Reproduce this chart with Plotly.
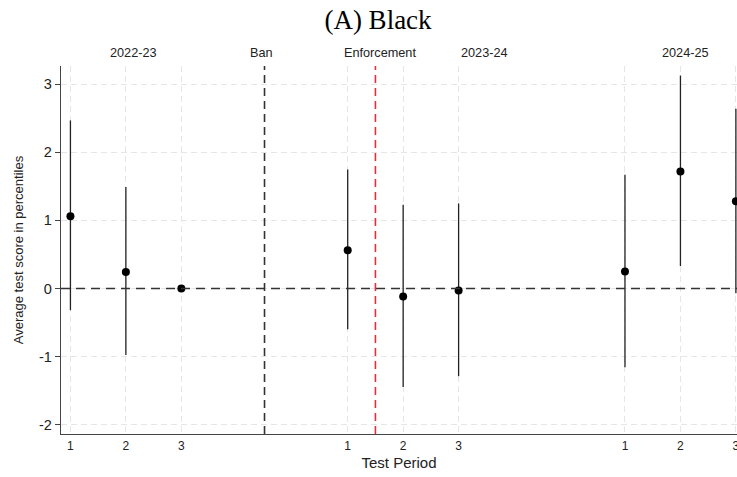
import plotly.graph_objects as go

# data
x_pos = [1, 2, 3, 6, 7, 8, 11, 12, 13]
tick_text = ["1", "2", "3", "1", "2", "3", "1", "2", "3"]
y_ticks = [-2, -1, 0, 1, 2, 3]
y_tick_text = ["-2", "-1", "0", "1", "2", "3"]
estimate = [1.06, 0.24, 0.0, 0.56, -0.12, -0.03, 0.25, 1.72, 1.28]
ci_low = [-0.32, -0.98, 0.0, -0.60, -1.45, -1.29, -1.16, 0.33, -0.07]
ci_high = [2.47, 1.49, 0.0, 1.75, 1.23, 1.25, 1.67, 3.13, 2.64]
ban_x = 4.5
enforcement_x = 6.5
section_labels = ["2022-23", "Ban", "Enforcement", "2023-24", "2024-25"]
section_label_x = [2.13, 4.45, 6.58, 8.47, 12.09]

err_plus = [h - e for h, e in zip(ci_high, estimate)]
err_minus = [e - l for e, l in zip(estimate, ci_low)]

fig = go.Figure()
fig.add_trace(go.Scatter(
    x=x_pos, y=estimate, mode="markers",
    marker=dict(color="black", size=8),
    error_y=dict(type="data", symmetric=False,
                 array=err_plus, arrayminus=err_minus,
                 width=0, thickness=1.3, color="#222222"),
    showlegend=False, cliponaxis=False,
))

fig.add_hline(y=0, line=dict(color="#333333", width=1.6, dash="9px,6px"))
fig.add_vline(x=ban_x, line=dict(color="#333333", width=1.6, dash="8px,5px"))
fig.add_vline(x=enforcement_x, line=dict(color="#e0303a", width=1.6, dash="8px,5px"))

for lbl, lx in zip(section_labels, section_label_x):
    fig.add_annotation(x=lx, y=1.0, xref="x", yref="paper", text=lbl,
                       showarrow=False, yanchor="bottom", yshift=4,
                       font=dict(family="Liberation Sans, Arial", size=12.7, color="#222222"))

fig.update_layout(
    width=737, height=477,
    margin=dict(l=61, r=0, t=66, b=43, autoexpand=False),
    plot_bgcolor="white", paper_bgcolor="white",
    title=dict(text="(A) Black", x=378 / 737, xanchor="center", y=0.978, yanchor="top",
               font=dict(family="Liberation Serif, Times New Roman", size=27, color="black")),
    font=dict(family="Liberation Sans, Arial", color="#222222"),
)
fig.update_xaxes(
    range=[0.83, 13.02], tickvals=x_pos, ticktext=tick_text, automargin=False,
    tickfont=dict(size=12), ticks="", ticklabeloverflow="allow",
    showline=True, linecolor="#444444", linewidth=1.3,
    showgrid=True, gridcolor="#e6e6e6", griddash="6px,4px", gridwidth=1,
    zeroline=False,
    title=dict(text="Test Period", font=dict(size=15), standoff=5),
)
fig.update_yaxes(
    range=[-2.14, 3.27], tickvals=y_ticks, ticktext=y_tick_text, automargin=False,
    tickfont=dict(size=14.5), ticks="outside", ticklen=5, tickcolor="#444444",
    showline=True, linecolor="#444444", linewidth=1.3,
    showgrid=True, gridcolor="#e6e6e6", griddash="6px,4px", gridwidth=1,
    zeroline=False,
    title=dict(text="Average test score in percentiles", font=dict(size=13), standoff=12),
)

fig.write_html("out.html", config={"displayModeBar": False},
               post_script="document.body.style.margin='0px';document.body.style.overflow='hidden';")
